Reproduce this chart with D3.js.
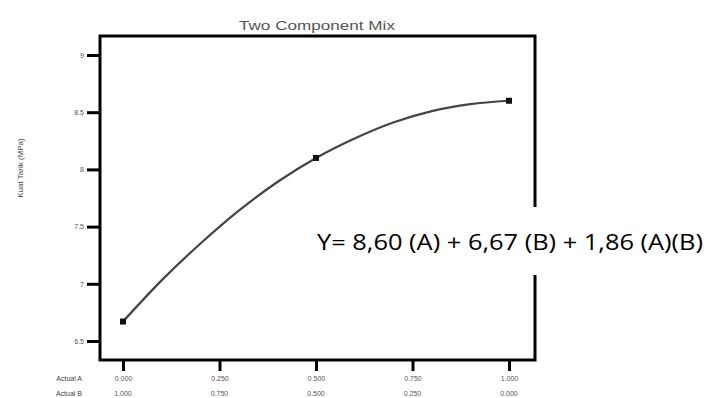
<!DOCTYPE html>
<html><head><meta charset="utf-8">
<script src="https://cdn.jsdelivr.net/npm/d3@7"></script>
<style>html,body{margin:0;padding:0;background:#fff;}svg{display:block;}</style>
</head><body>
<script>
// ---- data ----
const title = "Two Component Mix";
const yTitle = "Kuat Tarik (MPa)";
const rowLabels = ["Actual A", "Actual B"];
const aTickValues = [0, 0.25, 0.5, 0.75, 1];
const aTickLabels = ["0.000", "0.250", "0.500", "0.750", "1.000"];
const bTickLabels = ["1.000", "0.750", "0.500", "0.250", "0.000"];
const yTickValues = [6.5, 7, 7.5, 8, 8.5, 9];
const yTickLabels = ["6.5", "7", "7.5", "8", "8.5", "9"];
// fitted curve (component A fraction vs response)
const curveA = [0, 0.1, 0.2, 0.3, 0.4, 0.5, 0.6, 0.7, 0.8, 0.9, 1];
const curveY = [6.67, 7.03, 7.35, 7.64, 7.89, 8.10, 8.27, 8.41, 8.51, 8.57, 8.60];
// design points
const pointA = [0, 0.5, 1];
const pointY = [6.67, 8.10, 8.60];
const equation = "Y= 8,60 (A) + 6,67 (B) + 1,86 (A)(B)";

const W = 707, H = 398;
const frame = {left: 100, top: 36, right: 535, bottom: 360};
const svg = d3.select("body").append("svg").attr("width", W).attr("height", H);

const x = d3.scaleLinear().domain([0, 1]).range([123, 509]);
const y = d3.scaleLinear().domain([6.5, 9]).range([341, 55]);
const font = "Liberation Sans, Arial, sans-serif";

// title
svg.append("text").attr("x", 239).attr("y", 30)
  .attr("font-family", font).attr("font-size", 12)
  .attr("textLength", 156).attr("lengthAdjust", "spacingAndGlyphs")
  .attr("fill", "#555").text(title);

// y axis ticks
const yAxis = d3.axisLeft(y).tickValues(yTickValues)
  .tickFormat((d, i) => yTickLabels[i]).tickSize(13).tickPadding(3);
const ya = svg.append("g").attr("transform", `translate(${frame.left},0)`).call(yAxis);
ya.select(".domain").remove();
ya.selectAll(".tick line").attr("stroke", "#000").attr("stroke-width", 3);
ya.selectAll(".tick text").attr("font-family", font)
  .attr("font-size", 7).attr("fill", "#555");

// x axis ticks (row 1 labels: A)
const xAxis = d3.axisBottom(x).tickValues(aTickValues)
  .tickFormat((d, i) => aTickLabels[i]).tickSize(11).tickPadding(5);
const xa = svg.append("g").attr("transform", `translate(0,${frame.bottom})`).call(xAxis);
xa.select(".domain").remove();
xa.selectAll(".tick line").attr("stroke", "#000").attr("stroke-width", 3);
xa.selectAll(".tick text").attr("font-family", font)
  .attr("font-size", 7).attr("fill", "#555");

// row 2 labels: B
svg.append("g").selectAll("text").data(aTickValues).join("text")
  .attr("x", d => x(d)).attr("y", 396).attr("text-anchor", "middle")
  .attr("font-family", font).attr("font-size", 7)
  .attr("fill", "#555").text((d, i) => bTickLabels[i]);

// row labels
svg.append("text").attr("x", 82).attr("y", 381).attr("text-anchor", "end")
  .attr("font-family", font).attr("font-size", 7)
  .attr("fill", "#444").text(rowLabels[0]);
svg.append("text").attr("x", 82).attr("y", 396).attr("text-anchor", "end")
  .attr("font-family", font).attr("font-size", 7)
  .attr("fill", "#444").text(rowLabels[1]);

// y title
svg.append("text").attr("transform", "translate(23,168) rotate(-90)")
  .attr("text-anchor", "middle").attr("font-family", font)
  .attr("font-size", 8).attr("fill", "#444").text(yTitle);

// frame
svg.append("rect").attr("x", frame.left).attr("y", frame.top)
  .attr("width", frame.right - frame.left).attr("height", frame.bottom - frame.top)
  .attr("fill", "none").attr("stroke", "#000").attr("stroke-width", 3);

// curve
const line = d3.line().x((d, i) => x(curveA[i])).y(d => y(d)).curve(d3.curveCatmullRom);
svg.append("path").datum(curveY).attr("d", line).attr("fill", "none")
  .attr("stroke", "#444").attr("stroke-width", 2.2);

// points
svg.append("g").selectAll("rect").data(pointA).join("rect")
  .attr("x", d => x(d) - 3).attr("y", (d, i) => y(pointY[i]) - 3)
  .attr("width", 6).attr("height", 6).attr("fill", "#111");

// equation with white backing
svg.append("rect").attr("x", 310).attr("y", 207).attr("width", W - 310).attr("height", 68)
  .attr("fill", "#fff");
svg.append("text").attr("x", 317).attr("y", 250)
  .attr("font-family", "Open Sans, sans-serif").attr("font-size", 21).attr("font-weight", 500)
  .attr("textLength", 386).attr("lengthAdjust", "spacingAndGlyphs")
  .attr("fill", "#000").text(equation);
</script>
</body></html>
